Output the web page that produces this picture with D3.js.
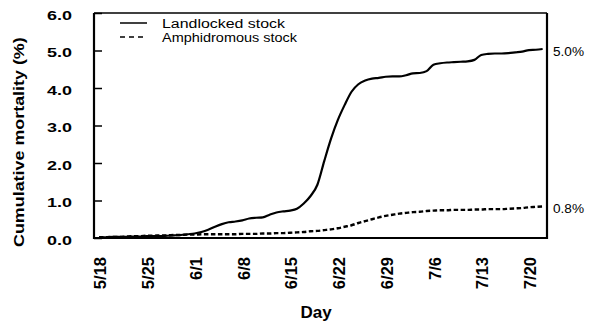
<!DOCTYPE html>
<html><head><meta charset="utf-8">
<script src="https://cdn.jsdelivr.net/npm/d3@7"></script>
<style>
html,body{margin:0;padding:0;background:#fff;}
svg{display:block;}
text{font-family:"Liberation Sans",Arial,sans-serif;fill:#000;}
</style></head>
<body>
<svg id="chart" width="593" height="326"></svg>
<script>
// Days since 5/18 (index = day offset)
const xTickDays = [0, 7, 14, 21, 28, 35, 42, 49, 56, 63];
const xTickLabels = ["5/18","5/25","6/1","6/8","6/15","6/22","6/29","7/6","7/13","7/20"];
const yTicks = [0, 1, 2, 3, 4, 5, 6];
const yTickLabels = ["0.0","1.0","2.0","3.0","4.0","5.0","6.0"];
const seriesNames = ["Landlocked stock", "Amphidromous stock"];
const landlocked = [0.02,0.02,0.03,0.03,0.03,0.04,0.04,0.05,0.05,0.05,0.06,0.07,0.08,0.10,
  0.12,0.16,0.22,0.30,0.37,0.42,0.44,0.47,0.52,0.54,0.55,0.62,0.68,0.71,
  0.73,0.78,0.92,1.12,1.42,2.05,2.65,3.15,3.55,3.90,4.10,4.20,4.25,4.27,
  4.30,4.31,4.31,4.34,4.39,4.40,4.45,4.62,4.66,4.68,4.69,4.70,4.71,4.75,
  4.88,4.91,4.92,4.92,4.93,4.95,4.97,5.01,5.02,5.04];
const amphidromous = [0.02,0.02,0.03,0.03,0.04,0.05,0.05,0.06,0.06,0.07,0.07,0.08,0.08,0.09,
  0.09,0.10,0.10,0.10,0.10,0.10,0.10,0.11,0.11,0.11,0.12,0.12,0.13,0.13,
  0.14,0.15,0.16,0.18,0.19,0.21,0.23,0.26,0.30,0.34,0.40,0.45,0.50,0.55,
  0.59,0.62,0.65,0.67,0.69,0.70,0.72,0.73,0.74,0.74,0.75,0.75,0.75,0.76,
  0.76,0.77,0.77,0.77,0.78,0.79,0.80,0.82,0.83,0.84];
const endLabels = ["5.0%", "0.8%"];
const endLabelValues = [5.0, 0.8];

const svg = d3.select("#chart");
const L = 94, R = 547, T = 13, B = 238;
const x = d3.scaleLinear().domain([-0.73, 65.64]).range([L, R]);
const y = d3.scaleLinear().domain([0, 6]).range([B, T]);

// y axis
const yAxis = svg.append("g").attr("transform", `translate(${L},0)`)
  .call(d3.axisLeft(y).tickValues(yTicks).tickSize(-8).tickPadding(22)
    .tickFormat((d, i) => yTickLabels[i]));
yAxis.select(".domain").remove();
yAxis.selectAll(".tick line").attr("stroke", "#000").attr("stroke-width", 1.5);
yAxis.selectAll(".tick text").attr("font-size", 12.5).attr("font-weight", "bold")
  .attr("dy", "0.5em").attr("textLength", 25).attr("lengthAdjust", "spacingAndGlyphs");

// x axis
const xAxis = svg.append("g").attr("transform", `translate(0,${B})`)
  .call(d3.axisBottom(x).tickValues(xTickDays).tickSize(0)
    .tickFormat((d, i) => xTickLabels[i]));
xAxis.select(".domain").remove();
xAxis.selectAll(".tick text")
  .attr("transform", "rotate(-90)")
  .attr("x", -19).attr("y", 1).attr("dy", "0.35em")
  .style("text-anchor", "end")
  .attr("font-size", 16.5).attr("font-weight", "bold");

// frame
svg.append("line").attr("x1", L).attr("x2", R).attr("y1", T).attr("y2", T)
  .attr("stroke", "#000").attr("stroke-width", 1.5);
svg.append("line").attr("x1", L).attr("x2", R + 1).attr("y1", B).attr("y2", B)
  .attr("stroke", "#000").attr("stroke-width", 2.2);
svg.append("line").attr("x1", L).attr("x2", L).attr("y1", T).attr("y2", B + 1)
  .attr("stroke", "#000").attr("stroke-width", 2.2);
svg.append("line").attr("x1", R).attr("x2", R).attr("y1", T).attr("y2", B + 1)
  .attr("stroke", "#000").attr("stroke-width", 2.2);

// lines
const line = d3.line().x((d, i) => x(i)).y(d => y(d)).curve(d3.curveMonotoneX);
svg.append("path").datum(landlocked).attr("d", line)
  .attr("fill", "none").attr("stroke", "#000").attr("stroke-width", 2.2)
  .attr("stroke-linejoin", "round");
svg.append("path").datum(amphidromous).attr("d", line)
  .attr("fill", "none").attr("stroke", "#000").attr("stroke-width", 2.4)
  .attr("stroke-dasharray", "4.5,2.5");

// end labels
endLabels.forEach((t, i) => {
  svg.append("text").attr("x", 553).attr("y", y(endLabelValues[i]) + 5)
    .attr("font-size", 12.5).attr("textLength", 31).attr("lengthAdjust", "spacingAndGlyphs")
    .text(t);
});

// legend
const legY = [23, 37];
const legLen = [123, 135];
seriesNames.forEach((n, i) => {
  svg.append("line").attr("x1", 120).attr("x2", 147).attr("y1", legY[i]).attr("y2", legY[i])
    .attr("stroke", "#000").attr("stroke-width", 1.5)
    .attr("stroke-dasharray", i === 1 ? "5,4" : null);
  svg.append("text").attr("x", 162).attr("y", legY[i] + 4.5)
    .attr("font-size", 12.5).attr("textLength", legLen[i]).attr("lengthAdjust", "spacingAndGlyphs")
    .text(n);
});

// axis titles (scaled along the text direction to the measured length)
const yTitle = svg.append("text").attr("x", 0).attr("y", 0)
  .attr("text-anchor", "start").attr("font-size", 15).attr("font-weight", "bold")
  .text("Cumulative mortality (%)");
const natural = yTitle.node().getComputedTextLength();
const sx = 210 / natural;
yTitle.attr("transform", `translate(24,247) rotate(-90) scale(${sx},1)`);
svg.append("text").attr("x", 316).attr("y", 318)
  .attr("text-anchor", "middle").attr("font-size", 17).attr("font-weight", "bold")
  .text("Day");
</script>
</body></html>
